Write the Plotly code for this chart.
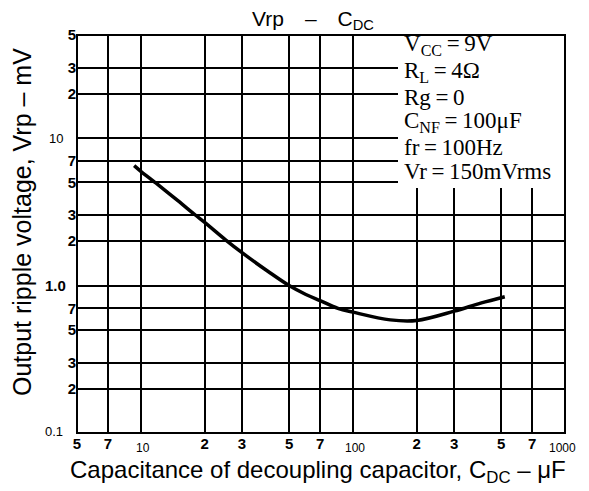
import plotly.graph_objects as go
import math

# ---- data ----
cap_uF = [9.3, 10, 12, 15, 18, 20, 25, 30, 40, 50, 60, 70, 85, 100, 150, 200, 300, 400, 520]
vrp_mV = [6.5, 5.95, 4.85, 3.75, 3.02, 2.68, 2.05, 1.67, 1.24, 1.0, 0.87, 0.79, 0.70, 0.66, 0.585, 0.58, 0.67, 0.76, 0.84]

x_ticks = [5, 7, 20, 30, 50, 70, 200, 300, 500, 700]
x_ticktext = ["5", "7", "2", "3", "5", "7", "2", "3", "5", "7"]
x_decades = [10, 100, 1000]
x_decade_text = ["10", "100", "1000"]

y_ticks = [0.2, 0.3, 0.5, 0.7, 2, 3, 5, 7, 20, 30, 50]
y_ticktext = ["2", "3", "5", "7", "2", "3", "5", "7", "2", "3", "5"]
y_decades = [0.1, 1, 10]
y_decade_text = ["0.1", "1.0", "10"]

conditions = ["V<sub>CC</sub>\u2009=\u20099V", "R<sub>L</sub>\u2009=\u20094\u03a9", "Rg\u2009=\u20090",
              "C<sub>NF</sub>\u2009=\u2009100\u03bcF", "fr\u2009=\u2009100Hz", "Vr\u2009=\u2009150mVrms"]

# the page body adds an 8px margin; lay out in reference pixels and compensate
OFF = 8
W, H = 589 - OFF, 491 - OFF
L, R, T, B = 77 - OFF, 565 - OFF, 35 - OFF, 433 - OFF
pw, ph = R - L, B - T

def px_x(p):
    return (p - OFF - L) / pw

def px_y(p):
    return (B - (p - OFF)) / ph

sans = "Liberation Sans, Arial, sans-serif"
narrow = "Liberation Sans Narrow, Arial Narrow, Liberation Sans, sans-serif"
serif = "Liberation Serif, Times New Roman, serif"

fig = go.Figure()
fig.add_trace(go.Scatter(x=cap_uF, y=vrp_mV, mode="lines",
                         line=dict(color="black", width=3.5, shape="spline", smoothing=1.0),
                         showlegend=False, hoverinfo="skip"))

fig.update_layout(
    template="none",
    width=W, height=H,
    margin=dict(l=L, r=W - R, t=T, b=H - B, autoexpand=False),
    paper_bgcolor="white", plot_bgcolor="white",
    xaxis=dict(type="log", range=[math.log10(5), math.log10(1000)], automargin=False,
               tickmode="array", tickvals=x_ticks, ticktext=x_ticktext,
               showgrid=True, gridcolor="black", gridwidth=2,
               minor=dict(tickmode="array", tickvals=x_decades, showgrid=True,
                          gridcolor="black", gridwidth=2, ticks=""),
               ticks="", showline=False, zeroline=False,
               tickfont=dict(family=narrow, size=15, color="black", weight="bold")),
    yaxis=dict(type="log", range=[-1, math.log10(50)], automargin=False,
               tickmode="array", tickvals=y_ticks, ticktext=y_ticktext,
               showgrid=True, gridcolor="black", gridwidth=2,
               minor=dict(tickmode="array", tickvals=y_decades, showgrid=True,
                          gridcolor="black", gridwidth=2, ticks=""),
               ticks="", showline=False, zeroline=False,
               tickfont=dict(family=narrow, size=15, color="black", weight="bold")),
)

# white conditions box covering the grid
fig.add_shape(type="rect", xref="paper", yref="paper",
              x0=px_x(398), x1=1, y0=px_y(188), y1=1,
              fillcolor="white", line=dict(width=0), layer="above")
# plot frame
fig.add_shape(type="rect", xref="paper", yref="paper", x0=0, x1=1, y0=0, y1=1,
              line=dict(color="black", width=2), layer="above")

ann = []
# chart title
ann.append(dict(x=px_x(313), y=px_y(20), xref="paper", yref="paper",
                text="Vrp\u2003\u2013\u2003C<sub>DC</sub>", showarrow=False,
                xanchor="center", yanchor="middle",
                font=dict(family=sans, size=21, color="black")))
for v, t in zip(x_decades, x_decade_text):
    ann.append(dict(x=math.log10(v), y=0, xref="x", yref="paper", text=t, showarrow=False,
                    xanchor="center", yanchor="top", yshift=-6, xshift=2 if v < 1000 else -3,
                    font=dict(family=narrow, size=12, color="black")))
for v, t in zip(y_decades, y_decade_text):
    ann.append(dict(x=0, y=math.log10(v), xref="paper", yref="y", text=t, showarrow=False,
                    xanchor="right", yanchor="middle", xshift=-12 if t != "1.0" else -9,
                    yshift=2 if v == 0.1 else 0,
                    font=dict(family=narrow, size=13 if t != "1.0" else 15, color="black",
                              weight="bold" if t == "1.0" else "normal")))
row_y = [45, 72, 97, 122, 147, 171]
for t, yy in zip(conditions, row_y):
    ann.append(dict(x=px_x(402), y=px_y(yy), xref="paper", yref="paper", text=t, showarrow=False,
                    xanchor="left", yanchor="middle",
                    font=dict(family=serif, size=23, color="black")))
ann.append(dict(x=px_x(22), y=px_y(222), xref="paper", yref="paper",
                text="Output ripple voltage, Vrp \u2013 mV", textangle=-90, showarrow=False,
                xanchor="center", yanchor="middle",
                font=dict(family=sans, size=25, color="black")))
ann.append(dict(x=px_x(318), y=px_y(471), xref="paper", yref="paper",
                text="Capacitance of decoupling capacitor, C<sub>DC</sub> \u2013 \u03bcF", showarrow=False,
                xanchor="center", yanchor="middle",
                font=dict(family=sans, size=24, color="black")))
fig.update_layout(annotations=ann)

fig.write_html("out.html")
